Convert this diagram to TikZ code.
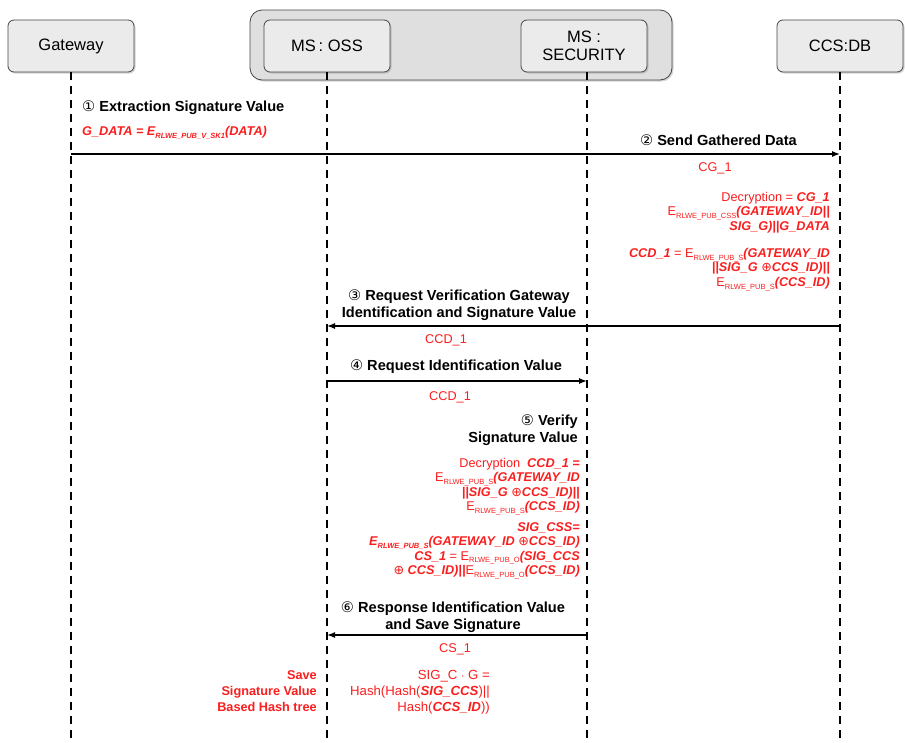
\documentclass[tikz,border=0pt]{standalone}
\usepackage{fontspec}
\setmainfont{Liberation Sans}
\newfontfamily\symf{DejaVu Sans}
\usetikzlibrary{arrows.meta,shadows}
\definecolor{redtxt}{RGB}{250,30,30}
\newcommand{\sub}[1]{\raisebox{-0.4ex}{\fontsize{7.5}{8}\selectfont #1}}
\newcommand{\circnum}[1]{{\symf\mdseries #1}}
\newcommand{\bi}[1]{{\bfseries\itshape #1}}
\newcommand{\xo}{{\symf\mdseries\upshape ⊕}}
\begin{document}
\begin{tikzpicture}[x=1pt,y=-1pt,
  actor/.style={draw=gray!55!black, line width=0.8pt, rounded corners=6pt, fill=gray!16,
    minimum width=126pt, minimum height=52pt, align=center,
    font=\fontsize{16.5}{18}\selectfont,
    drop shadow={opacity=0.35,shadow xshift=1.5pt,shadow yshift=-1.5pt}},
  group/.style={draw=gray!55!black, line width=0.8pt, rounded corners=12pt, fill=gray!25,
    minimum width=422pt, minimum height=70pt,
    drop shadow={opacity=0.35,shadow xshift=1.5pt,shadow yshift=-1.5pt}},
  lifeline/.style={dash pattern=on 8pt off 6pt, line width=1.6pt},
  msg/.style={-{Latex[length=8pt,width=6pt]}, line width=1.3pt},
  lbl/.style={font=\bfseries\fontsize{14.6}{16.5}\selectfont, align=center, inner sep=0pt},
  redt/.style={text=redtxt, font=\fontsize{12.7}{14.5}\selectfont, inner sep=0pt}
]
\useasboundingbox (0,0) rectangle (905,742);
% group box
\node[group] (grp) at (461,45) {};
% actors
\node[actor] (gw)  at (71,46)  {Gateway};
\node[actor] (oss) at (327,46) {MS\,: OSS};
\node[actor] (sec) at (584,46) {MS :\\SECURITY};
\node[actor] (db)  at (840,46) {CCS:DB};
% lifeline ends
\coordinate (gwE)  at (71,742);
\coordinate (ossE) at (327,742);
\coordinate (secE) at (587,742);
\coordinate (dbE)  at (840,742);
\coordinate (ossT) at (327,72);
\coordinate (secT) at (587,72);
\draw[lifeline] (gw.south) -- (gwE);
\draw[lifeline] (ossT) -- (ossE);
\draw[lifeline] (secT) -- (secE);
\draw[lifeline] (db.south) -- (dbE);
% message anchor points
\coordinate (m1a) at (71,154);  \coordinate (m1b) at (840,154);
\coordinate (m3a) at (840,326); \coordinate (m3b) at (327,326);
\coordinate (m4a) at (327,381); \coordinate (m4b) at (587,381);
\coordinate (m6a) at (587,635); \coordinate (m6b) at (327,635);
\draw[msg] (m1a) -- (m1b);
\draw[msg] (m3a) -- (m3b);
\draw[msg] (m4a) -- (m4b);
\draw[msg] (m6a) -- (m6b);
% step 1
\node[lbl, anchor=west] (l1) at (82,108) {\circnum{①} Extraction Signature Value};
\node[redt, anchor=west] (r1) at (82,133) {\bi{G\_DATA = E\sub{RLWE\_PUB\_V\_SK1}(DATA)}};
% step 2
\node[lbl, anchor=east] (l2) at (797,140) {\circnum{②} Send Gathered Data};
\node[redt] (r2) at (715,168) {CG\_1};
\node[redt, anchor=north east, align=right] (r2b) at (830,192) {Decryption = \bi{CG\_1}\\
E\sub{RLWE\_PUB\_CSS}\bi{(GATEWAY\_ID||}\\
\bi{SIG\_G)||G\_DATA}};
\node[redt, anchor=north east, align=right] (r2c) at (830,248) {\bi{CCD\_1} = E\sub{RLWE\_PUB\_S}\bi{(GATEWAY\_ID}\\
\bi{||SIG\_G \xo CCS\_ID)||}\\
E\sub{RLWE\_PUB\_S}\bi{(CCS\_ID)}};
% step 3
\node[lbl] (l3) at (459,305) {\circnum{③} Request Verification Gateway\\Identification and Signature Value};
\node[redt] (r3) at (446,340) {CCD\_1};
% step 4
\node[lbl] (l4) at (456,367) {\circnum{④} Request Identification Value};
\node[redt] (r4) at (450,397) {CCD\_1};
% step 5
\node[lbl, anchor=east, align=right] (l5) at (578,430) {\circnum{⑤} Verify\\Signature Value};
\node[redt, anchor=north east, align=right] (r5a) at (580,458) {Decryption\ \ \bi{CCD\_1 =}\\
E\sub{RLWE\_PUB\_S}\bi{(GATEWAY\_ID}\\
\bi{||SIG\_G \xo CCS\_ID)||}\\
E\sub{RLWE\_PUB\_S}\bi{(CCS\_ID)}};
\node[redt, anchor=north east, align=right] (r5b) at (580,522) {\bi{SIG\_CSS=}\\
\bi{E\sub{RLWE\_PUB\_S}(GATEWAY\_ID \xo CCS\_ID)}\\
\bi{CS\_1} = E\sub{RLWE\_PUB\_O}\bi{(SIG\_CCS}\\
\bi{\xo{} CCS\_ID)||}E\sub{RLWE\_PUB\_O}\bi{(CCS\_ID)}};
% step 6
\node[lbl] (l6) at (453,617) {\circnum{⑥} Response Identification Value\\and Save Signature};
\node[redt] (r6) at (455,649) {CS\_1};
\node[redt, anchor=north east, align=right, font=\bfseries\fontsize{12.7}{16}\selectfont] (r6a) at (317,670) {Save\\Signature Value\\Based Hash tree};
\node[redt, anchor=north east, align=right, font=\fontsize{13.2}{16}\selectfont] (r6b) at (490,670) {SIG\_C $\cdot$ G =\\
Hash(Hash(\bi{SIG\_CCS})||\\
Hash(\bi{CCS\_ID}))};
\end{tikzpicture}
\end{document}
